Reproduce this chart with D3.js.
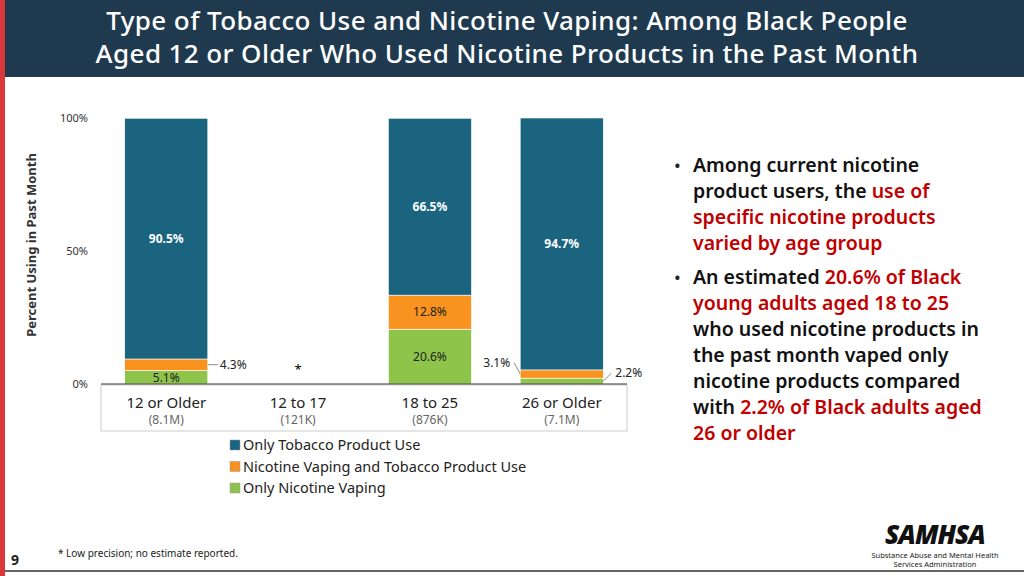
<!DOCTYPE html>
<html><head><meta charset="utf-8">
<script src="https://cdn.jsdelivr.net/npm/d3@7"></script>
<style>body{margin:0;background:#fff}svg{display:block;font-family:"Noto Sans","Open Sans",sans-serif}</style>
</head><body><svg id="c" width="1024" height="576"></svg>
<script>
const categories=["12 or Older","12 to 17","18 to 25","26 or Older"];
const sizes=["(8.1M)","(121K)","(876K)","(7.1M)"];
const vapingOnly=[5.1,null,20.6,2.2];
const both=[4.3,null,12.8,3.1];
const tobaccoOnly=[90.5,null,66.5,94.7];
const yTicks=[0,50,100];
const seriesNames=["Only Tobacco Product Use","Nicotine Vaping and Tobacco Product Use","Only Nicotine Vaping"];
const colors=["#1b6480","#f7931e","#8dc449"];

const svg=d3.select("#c");
svg.append("rect").attr("x",0).attr("y",0).attr("width",1024).attr("height",77).attr("fill","#1f3a4f");
svg.append("rect").attr("x",0).attr("y",0).attr("width",5).attr("height",576).attr("fill","#d9383a");
svg.append("line").attr("x1",5).attr("x2",1024).attr("y1",571).attr("y2",571).attr("stroke","#666").attr("stroke-width",2);
["Type of Tobacco Use and Nicotine Vaping: Among Black People","Aged 12 or Older Who Used Nicotine Products in the Past Month"].forEach((s,i)=>
  svg.append("text").attr("fill","#fff").attr("font-size",26).attr("text-anchor","middle").attr("font-weight",500)
    .attr("letter-spacing",0.4).attr("x",507).attr("y",30+i*33).text(s));

const x=d3.scaleBand().domain(categories).range([101,627]).paddingInner(0.37).paddingOuter(0.18);
const y=d3.scaleLinear().domain([0,100]).range([384,118]);

svg.append("rect").attr("x",101).attr("y",385).attr("width",526).attr("height",46).attr("fill","none").attr("stroke","#ccc");
yTicks.forEach(v=>svg.append("text").attr("x",88).attr("y",y(v)+4).attr("text-anchor","end").attr("font-size",11).attr("fill","#333").text(v+"%"));
svg.append("text").attr("transform","translate(36,245) rotate(-90)").attr("text-anchor","middle").attr("font-size",13).attr("font-weight",700).attr("fill","#333").text("Percent Using in Past Month");

const stack=[vapingOnly,both,tobaccoOnly];
categories.forEach((c,i)=>{
  let base=0;
  const bx=x(c),bw=x.bandwidth(),cx=bx+bw/2;
  if(vapingOnly[i]==null){
    svg.append("text").attr("x",cx).attr("y",374).attr("text-anchor","middle").attr("font-size",13).text("*");
  } else {
  [0,1,2].forEach(s=>{
    const si=2-s;
    const v=stack[s][i];
    const y0=y(base),y1=y(base+v);
    svg.append("rect").attr("x",bx).attr("y",y1).attr("width",bw).attr("height",y0-y1).attr("fill",colors[si]).attr("stroke","#fff").attr("stroke-width",0.6);
    base+=v;
  });
  }
  svg.append("text").attr("x",cx).attr("y",408).attr("text-anchor","middle").attr("font-size",15).attr("fill","#222").text(c);
  svg.append("text").attr("x",cx).attr("y",424).attr("text-anchor","middle").attr("font-size",12).attr("fill","#666").text(sizes[i]);
});
svg.append("line").attr("x1",101).attr("x2",627).attr("y1",384).attr("y2",384).attr("stroke","#333").attr("stroke-width",1.2);

function lbl(i,v,yy,fill,bold){svg.append("text").attr("x",x(categories[i])+x.bandwidth()/2).attr("y",yy).attr("text-anchor","middle").attr("font-size",12).attr("font-weight",bold?700:400).attr("fill",fill).text(v.toFixed(1)+"%");}
lbl(0,tobaccoOnly[0],y(vapingOnly[0]+both[0]+tobaccoOnly[0]/2)+4,"#fff",true);
lbl(0,vapingOnly[0],y(vapingOnly[0]/2)+5,"#222",false);
lbl(2,tobaccoOnly[2],y(vapingOnly[2]+both[2]+tobaccoOnly[2]/2)+4,"#fff",true);
lbl(2,both[2],y(vapingOnly[2]+both[2]/2)+4,"#222",false);
lbl(2,vapingOnly[2],y(vapingOnly[2]/2)+4,"#222",false);
lbl(3,tobaccoOnly[3],y(vapingOnly[3]+both[3]+tobaccoOnly[3]/2)+4,"#fff",true);
const r0=x(categories[0])+x.bandwidth();
svg.append("path").attr("d",`M${r0},${y(vapingOnly[0]+both[0]/2)} L${r0+10},${y(vapingOnly[0]+both[0]/2)}`).attr("stroke","#888").attr("fill","none");
svg.append("text").attr("x",r0+12).attr("y",y(vapingOnly[0]+both[0]/2)+4).attr("font-size",12).attr("fill","#222").text(both[0].toFixed(1)+"%");
const l3=x(categories[3]),r3=l3+x.bandwidth();
svg.append("path").attr("d",`M${l3},${y(vapingOnly[3]+both[3]/2)} L${l3-6},${y(8)}`).attr("stroke","#888").attr("fill","none");
svg.append("text").attr("x",l3-10).attr("y",y(8)+4).attr("text-anchor","end").attr("font-size",12).attr("fill","#222").text(both[3].toFixed(1)+"%");
svg.append("path").attr("d",`M${r3},${y(vapingOnly[3]/2)} L${r3+8},${y(4)}`).attr("stroke","#888").attr("fill","none");
svg.append("text").attr("x",r3+12).attr("y",y(4)+4).attr("font-size",12).attr("fill","#222").text(vapingOnly[3].toFixed(1)+"%");

seriesNames.forEach((n,i)=>{
  const yy=446+i*21.5;
  svg.append("rect").attr("x",230).attr("y",yy-6).attr("width",10).attr("height",10).attr("fill",colors[i]).attr("stroke","#999").attr("stroke-width",0.5);
  svg.append("text").attr("x",243).attr("y",yy+4).attr("font-size",14.5).attr("fill","#222").text(n);
});

const bullets=[
 [[["Among current nicotine","k"]],[["product users, the ","k"],["use of","r"]],[["specific nicotine products","r"]],[["varied by age group","r"]]],
 [[["An estimated ","k"],["20.6% of Black","r"]],[["young adults aged 18 to 25","r"]],[["who used nicotine products in","k"]],[["the past month vaped only","k"]],[["nicotine products compared","k"]],[["with ","k"],["2.2% of Black adults aged","r"]],[["26 or older","r"]]]
];
let yy=172;
bullets.forEach(b=>{
  svg.append("text").attr("x",674).attr("y",yy).attr("font-size",18).attr("fill","#222").text("•");
  b.forEach(line=>{
    const tx=svg.append("text").attr("x",693).attr("y",yy).attr("font-size",19.5).attr("font-weight",600);
    line.forEach(([s,c])=>tx.append("tspan").attr("fill",c=="r"?"#c00000":"#111").text(s));
    yy+=26;
  });
  yy+=8;
});

svg.append("text").attr("x",58).attr("y",557).attr("font-size",10).attr("fill","#222").text("* Low precision; no estimate reported.");
svg.append("text").attr("x",11).attr("y",565).attr("font-size",14).attr("font-weight",700).attr("fill","#222").text("9");
svg.append("text").attr("x",935).attr("y",544).attr("text-anchor","middle").attr("font-size",26).attr("font-weight",900).attr("font-style","italic").attr("fill","#111").attr("letter-spacing",-1).text("SAMHSA");
svg.append("text").attr("x",935).attr("y",558).attr("text-anchor","middle").attr("font-size",7.5).attr("fill","#222").text("Substance Abuse and Mental Health");
svg.append("text").attr("x",935).attr("y",567).attr("text-anchor","middle").attr("font-size",7.5).attr("fill","#222").text("Services Administration");
</script></body></html>
